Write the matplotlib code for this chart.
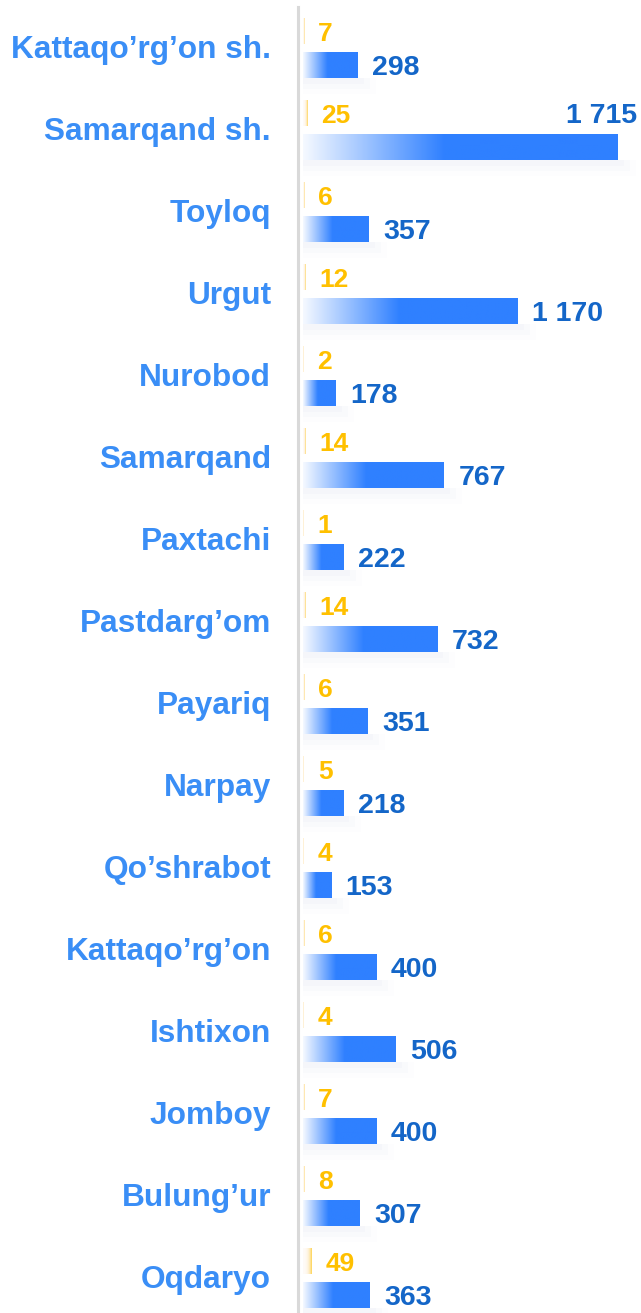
import numpy as np
import matplotlib
matplotlib.use("Agg")
import matplotlib.pyplot as plt
from matplotlib.colors import LinearSegmentedColormap, to_rgb
from matplotlib.transforms import blended_transform_factory, offset_copy
from matplotlib.lines import Line2D

categories = ["Kattaqo’rg’on sh.", "Samarqand sh.", "Toyloq", "Urgut", "Nurobod",
              "Samarqand", "Paxtachi", "Pastdarg’om", "Payariq", "Narpay",
              "Qo’shrabot", "Kattaqo’rg’on", "Ishtixon", "Jomboy", "Bulung’ur", "Oqdaryo"]
blue_values = [298, 1715, 357, 1170, 178, 767, 222, 732, 351, 218, 153, 400, 506, 400, 307, 363]
orange_values = [7, 25, 6, 12, 2, 14, 1, 14, 6, 5, 4, 6, 4, 7, 8, 49]

plt.rcParams['font.family'] = ['Liberation Sans', 'DejaVu Sans']

W, H = 641, 1313
fig = plt.figure(figsize=(W / 100, H / 100), dpi=100)
x0_px = 303
ax = fig.add_axes([x0_px / W, 0, (W - x0_px) / W, 1])
xmax = 1715 * (W - x0_px) / 315.0
row_px = 82.0
first_px = 65.0
ytop = (0 - first_px) / row_px
ybot = (H - first_px) / row_px
ax.set_xlim(0, xmax)
ax.set_ylim(ybot, ytop)
ax.axis('off')

blue_h = 26 / row_px
orange_off = 34 / row_px
orange_h = 26 / row_px

blue_cmap = LinearSegmentedColormap.from_list("b", ["#F5F9FF", "#2F80FF"])
t = np.clip(np.linspace(0, 1, 256) / 0.45, 0, 1)
grad_blue = t[None, :]

orng = to_rgb("#FFC000")
peach = to_rgb("#FBE3D0")
n = 64
s = np.linspace(0.0, 1.0, n)
grad_orange = np.zeros((1, n, 4))
for c in range(3):
    grad_orange[0, :, c] = peach[c] + (orng[c] - peach[c]) * s ** 2
grad_orange[0, :, 3] = 0.15 + 0.55 * s ** 2

vmax = max(blue_values)
dy = -2.2  # points, baseline correction
for i, (cat, bv, ov) in enumerate(zip(categories, blue_values, orange_values)):
    yb = i
    yo = i - orange_off
    for k, a in enumerate([0.05, 0.035, 0.02]):
        ax.fill_between([0, bv + 6 * (k + 1) * xmax / 338],
                        yb + blue_h / 2, yb + blue_h / 2 + (6 + 5 * k) / row_px,
                        color="#A8B8D8", alpha=a, lw=0, zorder=1)
    ax.imshow(grad_blue, extent=[0, bv, yb + blue_h / 2, yb - blue_h / 2],
              aspect='auto', cmap=blue_cmap, vmin=0, vmax=1, zorder=2,
              interpolation='bilinear')
    ax.imshow(grad_orange, extent=[0, ov, yo + orange_h / 2, yo - orange_h / 2],
              aspect='auto', zorder=2, interpolation='bilinear')
    ax.annotate(str(ov), xy=(ov, yo), xytext=(10, dy), textcoords='offset points',
                ha='left', va='center', color="#FFC000", fontsize=19,
                fontweight='bold', zorder=3)
    lab = f"{bv:,}".replace(",", " ")
    if bv == vmax:
        ax.annotate(lab, xy=(bv, yo), xytext=(14, dy), textcoords='offset points',
                    ha='right', va='center', color="#1466C8", fontsize=20.5,
                    fontweight='bold', zorder=3, annotation_clip=False)
    else:
        ax.annotate(lab, xy=(bv, yb), xytext=(10.5, dy), textcoords='offset points',
                    ha='left', va='center', color="#1466C8", fontsize=20.5,
                    fontweight='bold', zorder=3)

tr = blended_transform_factory(fig.transFigure, ax.transData)
tr = offset_copy(tr, fig=fig, x=0, y=-1.5, units='points')
for i, cat in enumerate(categories):
    ymid = i - orange_off / 2
    ax.text(271 / W, ymid, cat, transform=tr, ha='right', va='center',
            color="#3A8EF6", fontsize=22.8, fontweight='bold', clip_on=False)

fig.add_artist(Line2D([298 / W, 298 / W], [0, 1 - 7 / H], transform=fig.transFigure,
                      color="#D9D9D9", lw=2.2))

fig.savefig("out.png", dpi=100)
